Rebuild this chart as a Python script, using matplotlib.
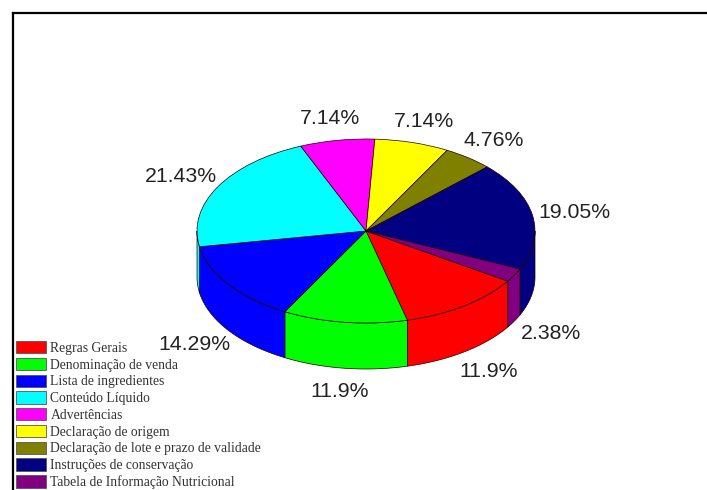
import matplotlib
matplotlib.use('Agg')
import matplotlib.pyplot as plt
import numpy as np
from matplotlib.patches import Patch

labels = ['Regras Gerais', 'Denominação de venda', 'Lista de ingredientes',
          'Conteúdo Líquido', 'Advertências', 'Declaração de origem',
          'Declaração de lote e prazo de validade',
          'Instruções de conservação', 'Tabela de Informação Nutricional']
values = [11.9, 11.9, 14.29, 21.43, 7.14, 7.14, 4.76, 19.05, 2.38]
colors = ['#ff0000', '#00ff00', '#0000ff', '#00ffff', '#ff00ff',
          '#ffff00', '#808000', '#000080', '#800080']

W, H = 707, 490
cx, cy = 366, 231   # pie centre in pixels
a, b = 169, 92      # ellipse half axes in pixels
depth = 46 / b      # wall height in data units
start = -33

fig = plt.figure(figsize=(W / 100, H / 100), dpi=100)

# outer frame, only top and left are there
frame = fig.add_axes([13 / W, 0, 1 - 13 / W, 1 - 13 / H])
frame.set_xticks([])
frame.set_yticks([])
frame.spines['right'].set_visible(False)
frame.spines['bottom'].set_visible(False)
frame.spines['top'].set_linewidth(1.6)
frame.spines['left'].set_linewidth(1.6)

ax = fig.add_axes([0, 0, 1, 1])
ax.patch.set_alpha(0)
ax.pie(values, colors=colors, startangle=start, counterclock=False,
       wedgeprops={'edgecolor': '#200000', 'linewidth': 0.5, 'zorder': 3})
ax.set_aspect('auto')
ax.set_xlim(-cx / a, (W - cx) / a)
ax.set_ylim((cy - H) / b, cy / b)
ax.axis('off')

# walls and labels, walking clockwise like the pie
ang = start
for v, c in zip(values, colors):
    t1 = ang
    t2 = ang - v * 3.6
    mid = np.radians((t1 + t2) / 2)

    # part of the wedge on the front half (180..360 degrees)
    for shift in (0, 360, 720):
        hi = min(t1 + shift, 360)
        lo = max(t2 + shift, 180)
        if hi > lo:
            th = np.radians(np.linspace(lo, hi, 60))
            x = np.cos(th)
            y = np.sin(th)
            ax.fill(np.r_[x, x[::-1]], np.r_[y, y[::-1] - depth], fc=c,
                    ec='#200000', lw=0.5, zorder=2)

    lx = 1.25 * np.cos(mid)
    ly = 1.25 * np.sin(mid)
    if ly < 0:
        ly -= depth
    ax.text(lx, ly - 0.01, f'{v:g}%', ha='center', va='center', fontsize=15.3,
            family='Liberation Sans', color='#222222', zorder=5)
    ang = t2

handles = [Patch(fc=c, ec='#555555', lw=0.6) for c in colors]
fig.legend(handles, labels, loc='lower left', bbox_to_anchor=(16 / W, 1 / H),
           frameon=False, borderpad=0, borderaxespad=0, handlelength=2.2,
           handleheight=1.02, handletextpad=0.32, labelspacing=0.21,
           prop={'family': 'Liberation Serif', 'size': 9.85}, labelcolor='#333333')

fig.savefig('out.png', dpi=100)
